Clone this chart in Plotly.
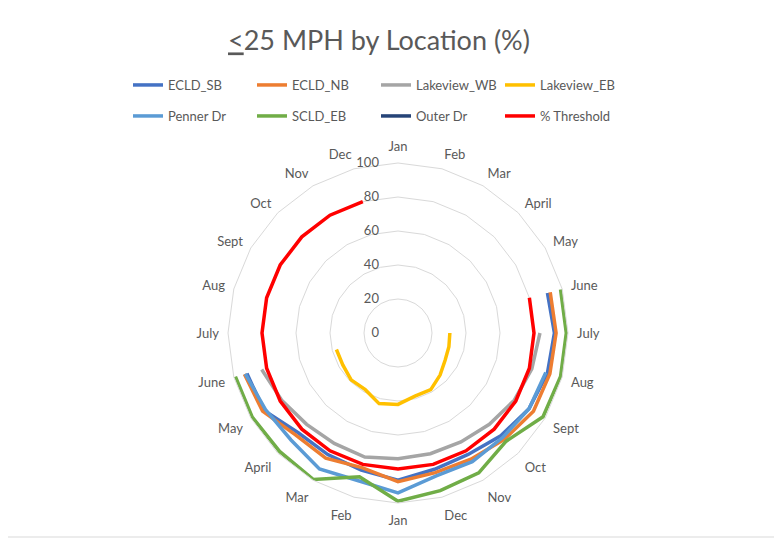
import plotly.graph_objects as go

months = ["Jan", "Feb", "Mar", "April", "May", "June", "July", "Aug", "Sept", "Oct", "Nov", "Dec"]
periods = ["Y1", "Y2"]
categories = [f"{m} {p}" for p in periods for m in months]
tick_labels = months * 2

N = None
ecld_sb     = [N, N, N, N, N, 91, 92, 91, 89, 85.5, 82.5, 83, 86.6, 83.5, 82.6, 83, 91, 92, N, N, N, N, N, N]
ecld_nb     = [N, N, N, N, N, 92.7, 93, 92.5, 92, 88.5, 85.7, 85, 87.4, 82, 85, 85, 92, 93.5, N, N, N, N, N, N]
lakeview_wb = [N, N, N, N, N, N, 83.5, 81.5, 79, 76, 74, 73.5, 74, 75.5, 75, 76, 79, 83, N, N, N, N, N, N]
lakeview_eb = [N, N, N, N, N, N, 30.5, 31, 32, 35, 38.5, 38.5, 42, 43, 38.5, 39, 37.5, 37.5, N, N, N, N, N, N]
penner_dr   = [N, N, N, N, N, N, N, 90, 89, 87, 87.4, 87, 94, 90, 92.4, 89, 90, 93, N, N, N, N, N, N]
scld_eb     = [N, N, N, N, N, 99, 99, 99, 98.5, 90, 95, 96, 99, 87.5, 99.5, 98.5, 99, 99, N, N, N, N, N, N]
outer_dr    = [N] * 24
threshold   = [N, N, N, N, N] + [80] * 19

series = [
    ("ECLD_SB", ecld_sb, "#4472C4", "legend"),
    ("ECLD_NB", ecld_nb, "#ED7D31", "legend"),
    ("Lakeview_WB", lakeview_wb, "#A5A5A5", "legend"),
    ("Lakeview_EB", lakeview_eb, "#FFC000", "legend"),
    ("Penner Dr", penner_dr, "#5B9BD5", "legend2"),
    ("SCLD_EB", scld_eb, "#70AD47", "legend2"),
    ("Outer Dr", outer_dr, "#264478", "legend2"),
    ("% Threshold", threshold, "#FF0000", "legend2"),
]

radial_ticks = [0, 20, 40, 60, 80, 100]

W, H = 782, 539
OFF = 8  # the page body adds an 8px margin; work in page coordinates minus OFF
cx, cy, R = 398 - OFF, 333 - OFF, 170

fig = go.Figure()
for name, vals, color, leg in series:
    fig.add_trace(go.Scatterpolar(
        r=vals, theta=categories, name=name, mode="lines",
        line=dict(color=color, width=3.5), connectgaps=False,
        legend=leg,
    ))

font_family = "Lato"
txt = "#595959"
grid = "#D9D9D9"

leg_common = dict(
    orientation="h", xanchor="left", yanchor="middle",
    entrywidth=79, entrywidthmode="pixels",
    font=dict(size=13, color=txt, family=font_family),
    bgcolor="rgba(0,0,0,0)", itemwidth=30,
)

fig.update_layout(
    width=W, height=H,
    margin=dict(l=0, r=0, t=0, b=0, autoexpand=False),
    paper_bgcolor="white",
    plot_bgcolor="white",
    font=dict(family=font_family, color=txt, size=13),
    title=dict(
        text="<u>&lt;</u>25 MPH by Location (%)",
        x=(379 - OFF) / W, xanchor="center", xref="paper",
        y=1 - (41 - OFF) / H, yanchor="middle", yref="container",
        font=dict(family=font_family, size=27, color=txt),
    ),
    polar=dict(
        domain=dict(x=[(cx - R) / W, (cx + R) / W], y=[(H - cy - R) / H, (H - cy + R) / H]),
        bgcolor="white",
        gridshape="linear",
        angularaxis=dict(
            type="category",
            categoryorder="array", categoryarray=categories,
            rotation=90, direction="clockwise",
            tickmode="array", tickvals=categories, ticktext=tick_labels,
            showgrid=False, showline=True, linecolor=grid, linewidth=1,
            ticks="outside", ticklen=6, tickcolor="rgba(0,0,0,0)",
            tickfont=dict(size=13, color=txt, family=font_family),
        ),
        radialaxis=dict(
            range=[0, 100], tickmode="array", tickvals=radial_ticks,
            showline=False, gridcolor=grid, gridwidth=1,
            angle=90, tickangle=90, side="counterclockwise",
            ticks="outside", ticklen=14, tickcolor="rgba(0,0,0,0)",
            tickfont=dict(size=13, color=txt, family=font_family),
        ),
    ),
    legend=dict(x=(133 - OFF - 5) / W, y=1 - (86 - OFF - 1) / H, **leg_common),
    legend2=dict(x=(133 - OFF - 5) / W, y=1 - (117 - OFF - 1) / H, **leg_common),
    shapes=[dict(type="rect", xref="paper", yref="paper",
                 x0=(5 - OFF) / W, x1=(776 - OFF) / W,
                 y0=1 - (537 - OFF) / H, y1=1 - (5 - OFF) / H,
                 line=dict(color=grid, width=1), fillcolor="rgba(0,0,0,0)", layer="below")],
    showlegend=True,
)

fig.write_html("out.html")
